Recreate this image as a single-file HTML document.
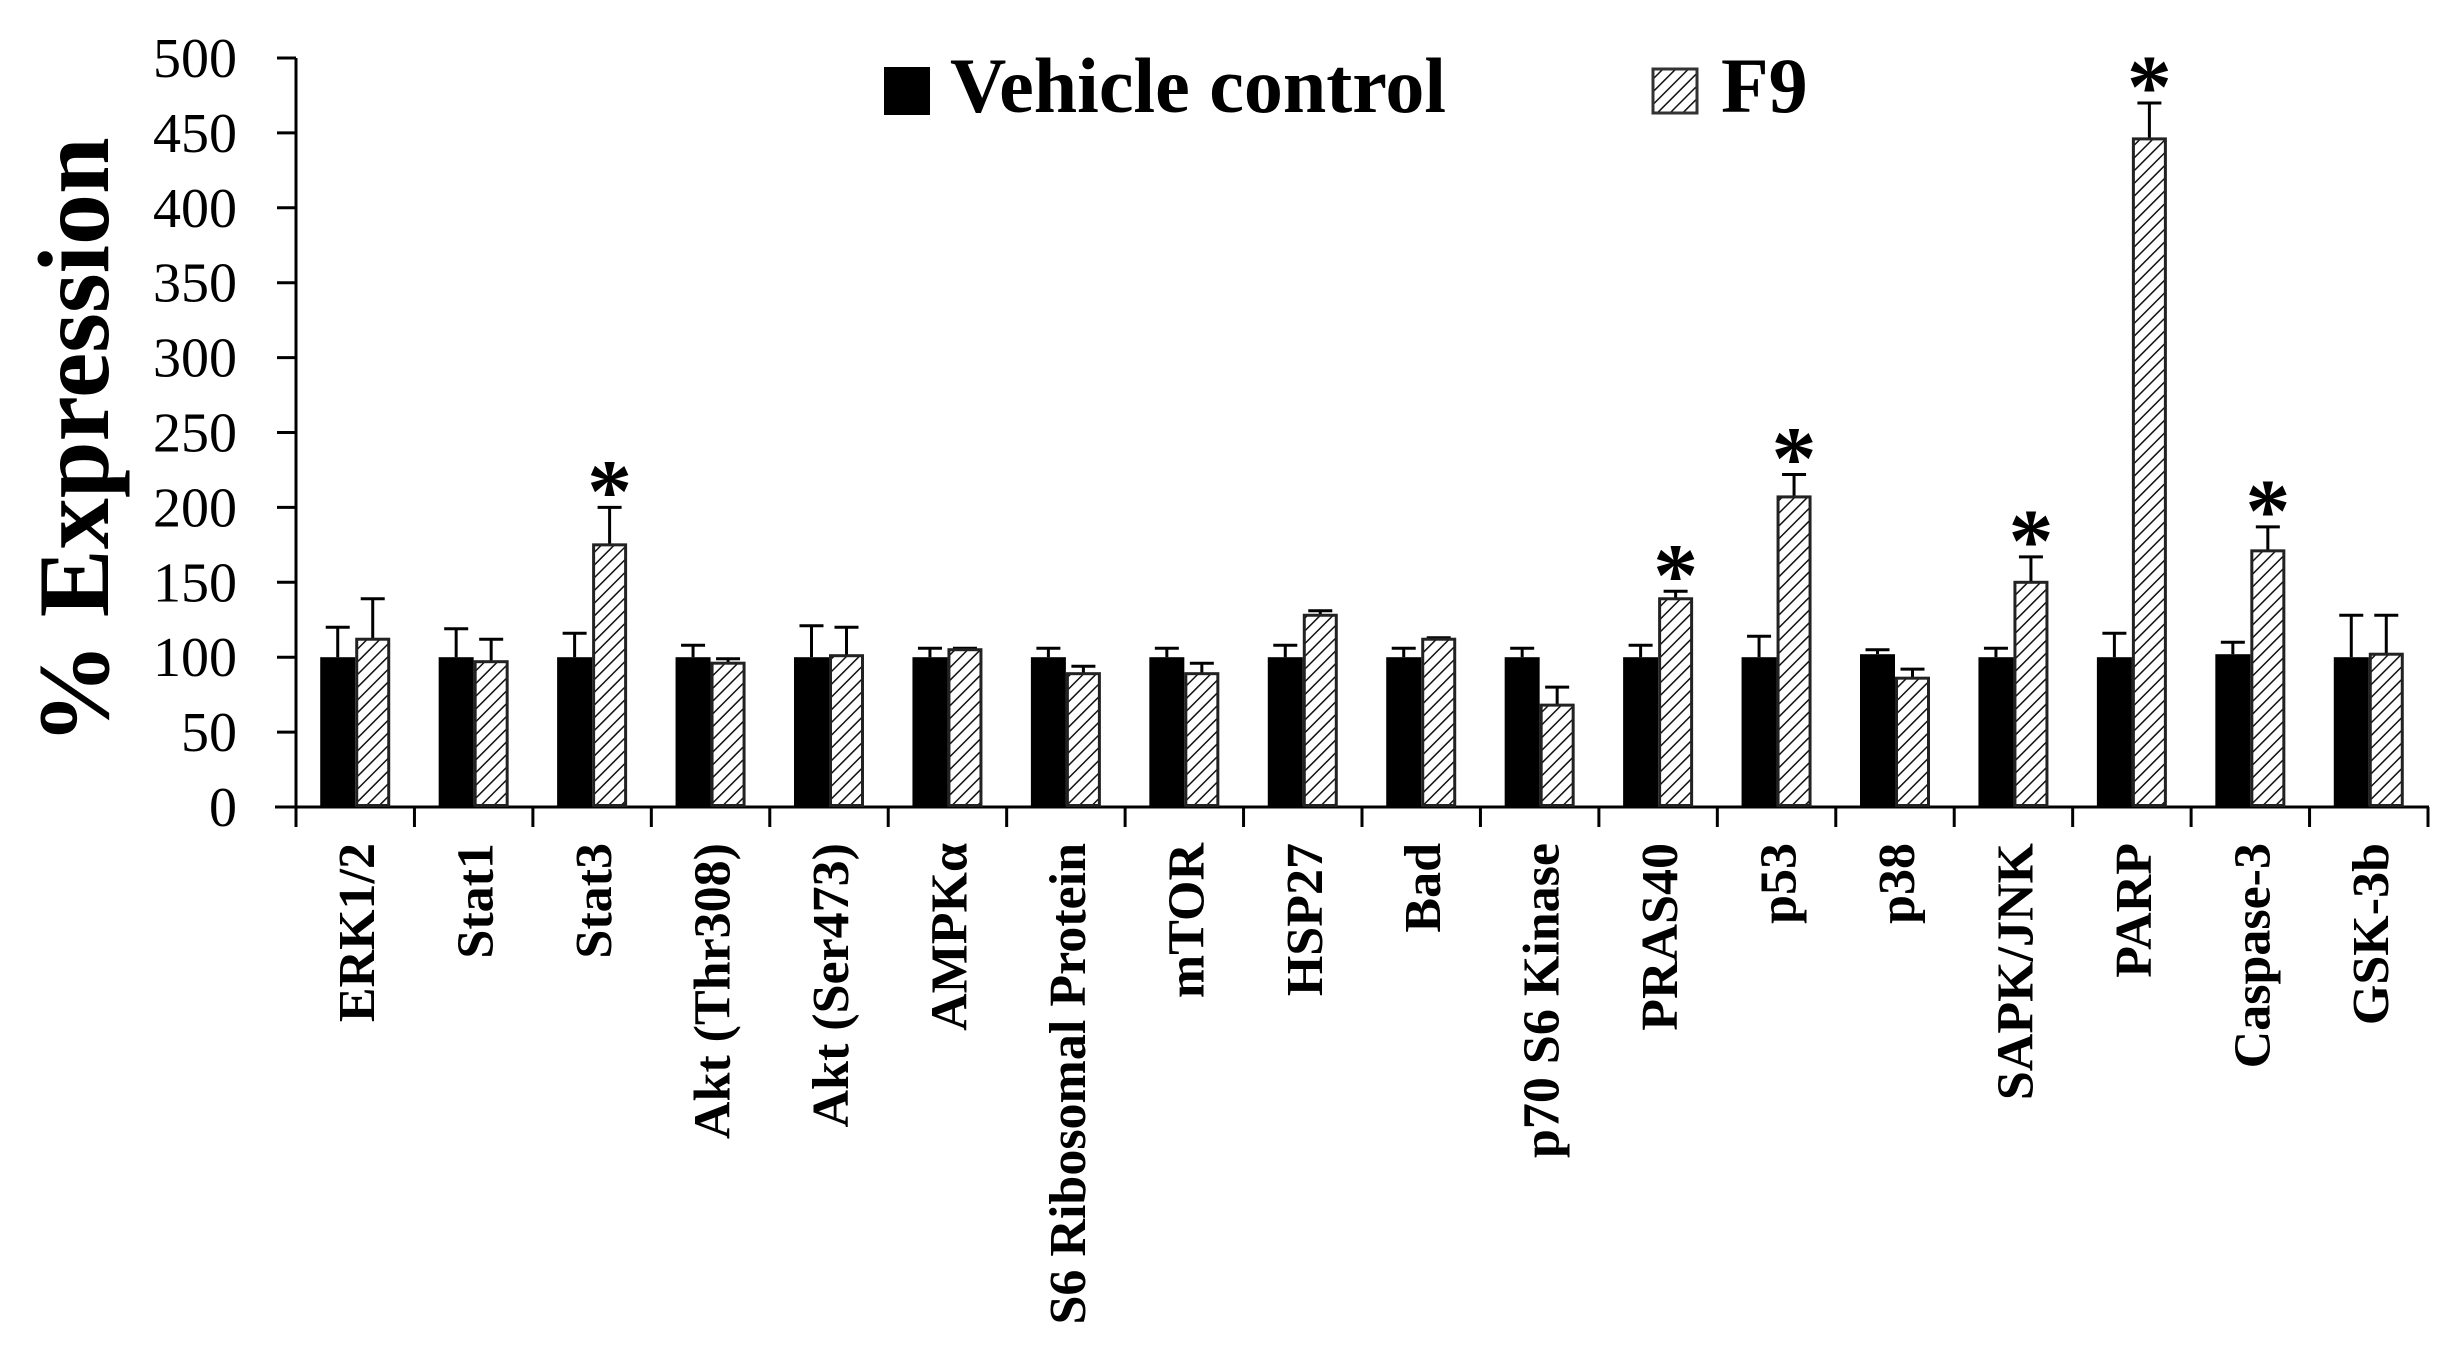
<!DOCTYPE html>
<html><head><meta charset="utf-8"><style>
html,body{margin:0;padding:0;background:#fff;}
svg{display:block;}
text{font-family:"Liberation Serif",serif;fill:#000;}
</style></head><body>
<svg id="chart" width="2452" height="1369" viewBox="0 0 2452 1369" xmlns="http://www.w3.org/2000/svg">
<defs>
<pattern id="hatch" patternUnits="userSpaceOnUse" width="9" height="9" patternTransform="rotate(45)">
<rect width="9" height="9" fill="#fff"/>
<line x1="0" y1="0" x2="0" y2="9" stroke="#111" stroke-width="3"/>
</pattern>
</defs>
<g id="plot"></g>
<g>
<rect x="884" y="67" width="46" height="48" fill="#000"/>
<text x="950" y="112" font-size="78" font-weight="bold">Vehicle control</text>
<rect x="1653" y="69" width="44" height="44" fill="url(#hatch)" stroke="#333" stroke-width="3"/>
<text x="1721" y="112" font-size="78" font-weight="bold">F9</text>
</g>
<text transform="translate(108,441) rotate(-90)" text-anchor="middle" font-size="102" font-weight="bold">% Expression</text>
</svg>
<script>
const categories = ["ERK1/2","Stat1","Stat3","Akt (Thr308)","Akt (Ser473)","AMPK\u03B1","S6 Ribosomal Protein","mTOR","HSP27","Bad","p70 S6 Kinase","PRAS40","p53","p38","SAPK/JNK","PARP","Caspase-3","GSK-3b"];
const vehicleValues = [100,100,100,100,100,100,100,100,100,100,100,100,100,102,100,100,102,100];
const vehicleErr = [120,119,116,108,121,106,106,106,108,106,106,108,114,105,106,116,110,128];
const f9Values = [112,97,175,96,101,105,89,89,128,112,68,139,207,86,150,446,171,102];
const f9Err = [139,112,200,99,120,106,94,96,131,113,80,144,222,92,167,470,187,128];
const significant = [false,false,true,false,false,false,false,false,false,false,false,true,true,false,true,true,true,false];
const yTicks = [0,50,100,150,200,250,300,350,400,450,500];

const NS = "http://www.w3.org/2000/svg";
const X0 = 296, X1 = 2428, Y0 = 807, YTOP = 58, YMAX = 500;
const band = (X1 - X0) / categories.length;
const barW = 35;
function yScale(v){ return Y0 - (v / YMAX) * (Y0 - YTOP); }
function xCenter(i){ return X0 + band * (i + 0.5); }
const plot = document.getElementById('plot');
function mk(tag, attrs){ const e = document.createElementNS(NS, tag); for (const k in attrs) e.setAttribute(k, attrs[k]); plot.appendChild(e); return e; }

let ax = mk('line', {x1:X0, y1:YTOP, x2:X0, y2:Y0, stroke:'#000', 'stroke-width':3});


yTicks.forEach(t => {
  const y = yScale(t);
  const tk = mk('line', {x1:277, y1:y, x2:X0, y2:y, stroke:'#000', 'stroke-width':3});
  
  
  const lb = mk('text', {x:237, y:y+19, 'text-anchor':'end', 'font-size':56});
  lb.textContent = t;
  
  
});
let xa = mk('line', {x1:275, y1:Y0, x2:X1+1, y2:Y0, stroke:'#000', 'stroke-width':3});


for (let i = 0; i <= categories.length; i++) {
  const x = X0 + band * i;
  const tk = mk('line', {x1:x, y1:Y0, x2:x, y2:827, stroke:'#000', 'stroke-width':3});
  
  
}
categories.forEach((c, i) => {
  const cx = xCenter(i);
  const yv = yScale(vehicleValues[i]);
  const ev = yScale(vehicleErr[i]);
  const l1 = mk('line', {x1:cx-barW/2, y1:ev, x2:cx-barW/2, y2:yv, stroke:'#000', 'stroke-width':3});
  
  
  const c1 = mk('line', {x1:cx-barW/2-12, y1:ev, x2:cx-barW/2+12, y2:ev, stroke:'#000', 'stroke-width':3});
  
  
  const b1 = mk('rect', {x:cx-barW, y:yv, width:barW, height:Y0-yv, fill:'#000'});
  
  
  const yf = yScale(f9Values[i]);
  const ef = yScale(f9Err[i]);
  const l2 = mk('line', {x1:cx+barW/2, y1:ef, x2:cx+barW/2, y2:yf, stroke:'#000', 'stroke-width':3});
  
  
  const c2 = mk('line', {x1:cx+barW/2-12, y1:ef, x2:cx+barW/2+12, y2:ef, stroke:'#000', 'stroke-width':3});
  
  
  const b2 = mk('rect', {x:cx+1.5, y:yf, width:barW-3, height:Y0-yf-1.5, fill:'url(#hatch)', stroke:'#222', 'stroke-width':3});
  
  
  if (significant[i]) {
    const s = mk('text', {x:cx+barW/2, y:ef+14, 'text-anchor':'middle', 'font-size':90, 'font-weight':'bold'});
    s.textContent = '*';
    
    
  }
  const lb = mk('text', {transform:'translate(' + (cx+19) + ',843) rotate(-90)', 'text-anchor':'end', 'font-size':52, 'font-weight':'bold'});
  lb.textContent = c;
  
  
});
</script>
</body></html>
